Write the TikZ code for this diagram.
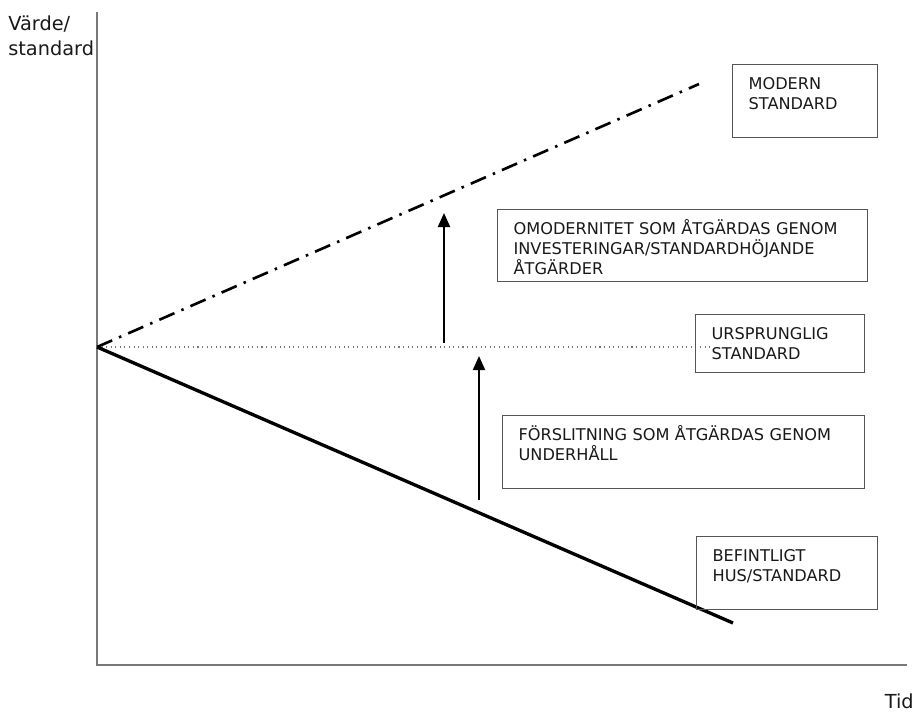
\documentclass[tikz,border=0pt]{standalone}
\usepackage{fontspec}
\setmainfont{DejaVu Sans}
\usepackage{xcolor}
\usepackage{tikz}
\usetikzlibrary{arrows.meta,positioning,calc}
\definecolor{axisgray}{RGB}{120,120,120}
\definecolor{boxgray}{RGB}{85,85,85}
\definecolor{textdark}{RGB}{25,25,25}

\begin{document}
\begin{tikzpicture}[
    x=0.02cm, y=-0.02cm,
    box/.style={rectangle, draw=boxgray, line width=0.7pt, anchor=north west, align=left, inner xsep=0.32cm, inner ysep=0.26cm, text height=0.24cm, font=\fontsize{9.2}{11.4}\selectfont, text=textdark},
    axis/.style={draw=axisgray, line width=1.1pt},
    arrow/.style={-{Triangle[length=0.28cm, width=0.24cm]}, line width=1.1pt},
    axislabel/.style={font=\fontsize{11}{14.2}\selectfont, text=textdark, inner sep=0, align=left}
]
\useasboundingbox (0,0) rectangle (917,711);

% Axes - corner at lower left, lines start on the y axis
\coordinate (ytop) at (97,12);
\coordinate (corner) at (97,665);
\coordinate (xend) at (907,665);
\coordinate (start) at (97,347);
\draw[axis] (ytop) -- (corner) -- (xend);

\node[axislabel, anchor=base west] (vardelabel) at (8,55) {Värde/\\standard};
\node[axislabel, anchor=base east] (tidlabel) at (914,708) {Tid};

% Three standard lines
\coordinate (modernend) at (699,84);
\coordinate (originalend) at (713,347);
\coordinate (existingend) at (733,623);
\draw[line width=1.5pt, dash pattern=on 0.33cm off 0.15cm on 0.05cm off 0.15cm] (start) -- (modernend);
\draw[dotted, draw=axisgray, line width=0.6pt] (start) -- (originalend);
\draw[line width=1.9pt] (start) -- (existingend);

% Upgrade arrows
\coordinate (invbottom) at (444,343);
\coordinate (invtop) at (444,213);
\coordinate (maintbottom) at (479,500);
\coordinate (mainttop) at (479,356);
\draw[arrow] (invbottom) -- (invtop);
\draw[arrow] (maintbottom) -- (mainttop);

% Text boxes - top left corners
\node[box, text width=2.26cm, text depth=0.70cm] (modern) at (732,64) {MODERN\\STANDARD};
\node[box, text width=6.76cm, text depth=0.68cm] (omodern) at (497,209) {OMODERNITET SOM ÅTGÄRDAS GENOM\\INVESTERINGAR/STANDARDHÖJANDE\\ÅTGÄRDER};
\node[box, text width=2.74cm, text depth=0.40cm] (original) at (695,314) {URSPRUNGLIG\\STANDARD};
\node[box, text width=6.60cm, text depth=0.70cm] (wear) at (502,415) {FÖRSLITNING SOM ÅTGÄRDAS GENOM\\UNDERHÅLL};
\node[box, text width=2.98cm, text depth=0.70cm] (existing) at (696,536) {BEFINTLIGT\\HUS/STANDARD};

\end{tikzpicture}
\end{document}
